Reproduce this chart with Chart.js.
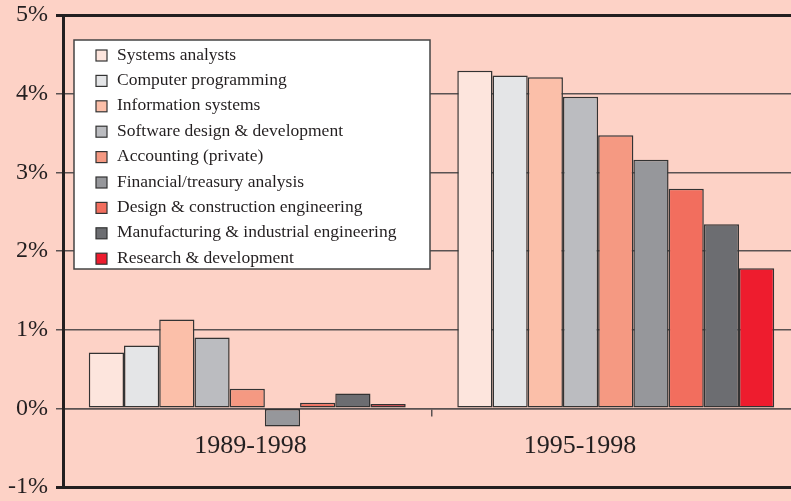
<!DOCTYPE html>
<html>
<head>
<meta charset="utf-8">
<script src="https://cdn.jsdelivr.net/npm/chart.js@4/dist/chart.umd.min.js"></script>
<style>
  html, body { margin: 0; padding: 0; background: #fdd2c6; overflow: hidden; }
  #wrap { width: 791px; height: 501px; overflow: hidden; }
</style>
</head>
<body>
<div id="wrap"><canvas id="growthChart" width="810" height="501"></canvas></div>
<script>
const periods = ['1989-1998', '1995-1998'];
const occupations = [
  'Systems analysts',
  'Computer programming',
  'Information systems',
  'Software design & development',
  'Accounting (private)',
  'Financial/treasury analysis',
  'Design & construction engineering',
  'Manufacturing & industrial engineering',
  'Research & development'
];
// annual growth, percent
const growth8998 = [0.71, 0.80, 1.13, 0.90, 0.25, -0.23, 0.07, 0.19, 0.055];
const growth9598 = [4.29, 4.23, 4.21, 3.96, 3.47, 3.16, 2.79, 2.34, 1.78];
const yTicks = [-1, 0, 1, 2, 3, 4, 5];

const colors = [
  '#fde5dd', '#e4e5e7', '#fbbfa9', '#bbbcc0', '#f59982',
  '#96979b', '#f26e5e', '#6c6d71', '#ee1c2e'
];

const ink = '#231f20';
const gridInk = '#5a5252';

const datasets = occupations.map((name, i) => ({
  label: name,
  data: [growth8998[i], growth9598[i]],
  backgroundColor: colors[i],
  borderColor: '#333',
  borderWidth: 1.5,
  borderSkipped: false
}));

// white boxed legend sitting in the top left of the plot
const boxLegend = {
  id: 'boxLegend',
  afterDraw(chart) {
    const ctx = chart.ctx;
    const area = chart.chartArea;
    const x = area.left + 11, y = area.top + 25;
    const w = 356, h = 229, row = 25.4;
    ctx.save();
    ctx.fillStyle = '#fff';
    ctx.fillRect(x, y, w, h);
    ctx.strokeStyle = '#444';
    ctx.lineWidth = 1.5;
    ctx.strokeRect(x, y, w, h);
    ctx.font = '17.5px "Liberation Serif", "Times New Roman", serif';
    ctx.textBaseline = 'middle';
    chart.data.datasets.forEach((ds, i) => {
      const cy = y + 15 + i * row;
      ctx.fillStyle = ds.backgroundColor;
      ctx.fillRect(x + 22, cy - 5, 11, 11);
      ctx.strokeStyle = '#333';
      ctx.lineWidth = 1.2;
      ctx.strokeRect(x + 22, cy - 5, 11, 11);
      ctx.fillStyle = ink;
      ctx.fillText(ds.label, x + 43, cy);
    });
    ctx.restore();
  }
};

new Chart('growthChart', {
  type: 'bar',
  data: { labels: periods, datasets: datasets },
  plugins: [boxLegend],
  options: {
    responsive: false,
    animation: false,
    layout: { padding: { top: 15, right: 10, bottom: 13, left: 0 } },
    datasets: { bar: { categoryPercentage: 0.86, barPercentage: 1 } },
    plugins: { legend: { display: false }, tooltip: { enabled: false } },
    scales: {
      x: {
        position: { y: 0 },
        grid: { drawOnChartArea: false, drawTicks: true, tickLength: 7, color: gridInk, lineWidth: 1.5 },
        border: { display: true, color: gridInk, width: 1.5 },
        ticks: {
          color: ink,
          padding: 15,
          font: { family: '"Liberation Serif", "Times New Roman", serif', size: 26 },
          // the second label sits left of its group in the original
          callback: function (v, i) {
            const s = this.getLabelForValue(v);
            return i === 1 ? s + ' '.repeat(11) : ' ' + s;
          }
        }
      },
      y: {
        min: -1,
        max: 5,
        afterFit: s => { s.width = 63; },
        afterBuildTicks: s => { s.ticks = yTicks.map(v => ({ value: v })); },
        grid: {
          color: c => (c.tick && (c.tick.value === 5 || c.tick.value === -1)) ? ink : gridInk,
          lineWidth: c => (c.tick && (c.tick.value === 5 || c.tick.value === -1)) ? 3 : 1.5,
          tickLength: 7
        },
        border: { display: true, color: ink, width: 3 },
        ticks: {
          color: ink,
          padding: 8,
          // small line height keeps the half-label padding from shrinking the plot
          font: { family: '"Liberation Serif", "Times New Roman", serif', size: 24, lineHeight: 0.5 },
          callback: v => v + '%'
        }
      }
    }
  }
});
</script>
</body>
</html>
